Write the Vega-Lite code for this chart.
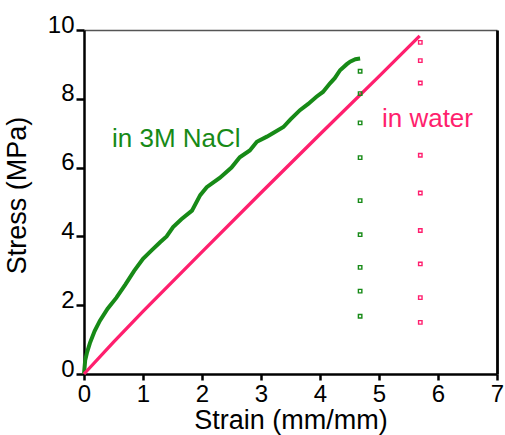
{
  "$schema": "https://vega.github.io/schema/vega-lite/v6.json",
  "width": 413,
  "height": 344,
  "autosize": {"type": "none"},
  "padding": {"left": 84, "top": 30, "right": 8, "bottom": 61},
  "background": "white",
  "config": {
    "view": {"stroke": null},
    "font": "Liberation Sans",
    "axis": {
      "grid": false,
      "domainColor": "#000000",
      "domainWidth": 2.5,
      "tickColor": "#000000",
      "tickWidth": 2.5,
      "labelFont": "Liberation Sans",
      "labelFontSize": 24,
      "labelColor": "#000000",
      "titleFont": "Liberation Sans",
      "titleFontSize": 27,
      "titleFontWeight": "normal",
      "titleColor": "#000000"
    }
  },
  "datasets": {
    "curves": [
      {"series": "NaCl", "strain": 0, "stress": 0},
      {"series": "NaCl", "strain": 0.02, "stress": 0.4},
      {"series": "NaCl", "strain": 0.05, "stress": 0.62},
      {"series": "NaCl", "strain": 0.1, "stress": 0.9},
      {"series": "NaCl", "strain": 0.18, "stress": 1.25},
      {"series": "NaCl", "strain": 0.27, "stress": 1.55},
      {"series": "NaCl", "strain": 0.4, "stress": 1.9},
      {"series": "NaCl", "strain": 0.55, "stress": 2.22},
      {"series": "NaCl", "strain": 0.7, "stress": 2.6},
      {"series": "NaCl", "strain": 0.85, "stress": 3.0},
      {"series": "NaCl", "strain": 1.0, "stress": 3.35},
      {"series": "NaCl", "strain": 1.15, "stress": 3.6},
      {"series": "NaCl", "strain": 1.29, "stress": 3.83},
      {"series": "NaCl", "strain": 1.4, "stress": 4.0},
      {"series": "NaCl", "strain": 1.51, "stress": 4.27},
      {"series": "NaCl", "strain": 1.65, "stress": 4.5},
      {"series": "NaCl", "strain": 1.83, "stress": 4.75},
      {"series": "NaCl", "strain": 1.97, "stress": 5.2},
      {"series": "NaCl", "strain": 2.08, "stress": 5.43},
      {"series": "NaCl", "strain": 2.3, "stress": 5.7},
      {"series": "NaCl", "strain": 2.5, "stress": 6.0},
      {"series": "NaCl", "strain": 2.64, "stress": 6.3},
      {"series": "NaCl", "strain": 2.81, "stress": 6.5},
      {"series": "NaCl", "strain": 2.93, "stress": 6.75},
      {"series": "NaCl", "strain": 3.1, "stress": 6.9},
      {"series": "NaCl", "strain": 3.2, "stress": 7.0},
      {"series": "NaCl", "strain": 3.38, "stress": 7.18},
      {"series": "NaCl", "strain": 3.5, "stress": 7.4},
      {"series": "NaCl", "strain": 3.66, "stress": 7.67},
      {"series": "NaCl", "strain": 3.8, "stress": 7.85},
      {"series": "NaCl", "strain": 3.94, "stress": 8.06},
      {"series": "NaCl", "strain": 4.05, "stress": 8.2},
      {"series": "NaCl", "strain": 4.17, "stress": 8.45},
      {"series": "NaCl", "strain": 4.25, "stress": 8.6},
      {"series": "NaCl", "strain": 4.34, "stress": 8.83},
      {"series": "NaCl", "strain": 4.45, "stress": 9.0},
      {"series": "NaCl", "strain": 4.51, "stress": 9.08},
      {"series": "NaCl", "strain": 4.6, "stress": 9.15},
      {"series": "NaCl", "strain": 4.68, "stress": 9.17},
      {"series": "water", "strain": 0, "stress": 0},
      {"series": "water", "strain": 0.5, "stress": 0.93},
      {"series": "water", "strain": 1.0, "stress": 1.82},
      {"series": "water", "strain": 2.0, "stress": 3.55},
      {"series": "water", "strain": 3.0, "stress": 5.27},
      {"series": "water", "strain": 4.0, "stress": 6.97},
      {"series": "water", "strain": 5.0, "stress": 8.65},
      {"series": "water", "strain": 5.69, "stress": 9.83}
    ],
    "dots": [
      {"series": "NaCl", "strain": 4.68, "stress": 8.8},
      {"series": "NaCl", "strain": 4.68, "stress": 8.15},
      {"series": "NaCl", "strain": 4.68, "stress": 7.3},
      {"series": "NaCl", "strain": 4.68, "stress": 6.29},
      {"series": "NaCl", "strain": 4.68, "stress": 5.04},
      {"series": "NaCl", "strain": 4.68, "stress": 4.05},
      {"series": "NaCl", "strain": 4.68, "stress": 3.1},
      {"series": "NaCl", "strain": 4.68, "stress": 2.41},
      {"series": "NaCl", "strain": 4.68, "stress": 1.68},
      {"series": "water", "strain": 5.7, "stress": 9.64},
      {"series": "water", "strain": 5.7, "stress": 9.11},
      {"series": "water", "strain": 5.7, "stress": 8.46},
      {"series": "water", "strain": 5.7, "stress": 6.36},
      {"series": "water", "strain": 5.7, "stress": 5.26},
      {"series": "water", "strain": 5.7, "stress": 4.17},
      {"series": "water", "strain": 5.7, "stress": 3.2},
      {"series": "water", "strain": 5.7, "stress": 2.22},
      {"series": "water", "strain": 5.7, "stress": 1.5}
    ],
    "labels": [
      {"series": "NaCl", "strain": 0.475, "stress": 6.83, "label": "in 3M NaCl"},
      {"series": "water", "strain": 5.05, "stress": 7.41, "label": "in water"}
    ]
  },
  "layer": [
    {
      "data": {"name": "curves"},
      "mark": {"type": "line"},
      "encoding": {
        "x": {
          "field": "strain", "type": "quantitative",
          "scale": {"domain": [0, 7], "nice": false},
          "axis": {
            "orient": "bottom", "values": [0, 1, 2, 3, 4, 5, 6, 7],
            "tickSize": 6, "labelPadding": 2, "labelFlush": false, "labelOverlap": false,
            "title": "Strain (mm/mm)", "titleBaseline": "alphabetic", "titleY": 54
          }
        },
        "y": {
          "field": "stress", "type": "quantitative",
          "scale": {"domain": [0, 10], "nice": false},
          "axis": {
            "orient": "left", "values": [0, 2, 4, 6, 8, 10],
            "tickSize": 8, "labelPadding": 2, "labelOffset": -5, "labelFlush": false, "labelOverlap": false,
            "title": "Stress (MPa)", "titleBaseline": "alphabetic", "titleX": -59, "titleY": 165
          }
        },
        "color": {
          "field": "series", "type": "nominal",
          "scale": {"domain": ["NaCl", "water"], "range": ["#178a17", "#ff1f6e"]},
          "legend": null
        },
        "strokeWidth": {
          "field": "series", "type": "nominal",
          "scale": {"domain": ["NaCl", "water"], "range": [4, 3.3]},
          "legend": null
        }
      }
    },
    {
      "data": {"name": "dots"},
      "mark": {"type": "point", "shape": "square", "size": 12, "filled": false, "strokeWidth": 1.4, "opacity": 1},
      "encoding": {
        "x": {"field": "strain", "type": "quantitative", "axis": null},
        "y": {"field": "stress", "type": "quantitative", "axis": null},
        "color": {"field": "series", "type": "nominal", "legend": null}
      }
    },
    {
      "data": {"name": "labels"},
      "mark": {"type": "text", "align": "left", "baseline": "middle", "fontSize": 26, "font": "Liberation Sans"},
      "encoding": {
        "x": {"field": "strain", "type": "quantitative", "axis": null},
        "y": {"field": "stress", "type": "quantitative", "axis": null},
        "text": {"field": "label"},
        "color": {"field": "series", "type": "nominal", "legend": null}
      }
    },
    {
      "data": {"name": "labels"},
      "mark": {"type": "point", "opacity": 0},
      "encoding": {
        "x": {
          "field": "strain", "type": "quantitative",
          "axis": {"orient": "top", "labels": false, "ticks": false, "title": null, "domainColor": "#555555", "domainWidth": 1.5}
        },
        "y": {
          "field": "stress", "type": "quantitative",
          "axis": {"orient": "right", "labels": false, "ticks": false, "title": null, "domainColor": "#000000", "domainWidth": 2.8}
        }
      }
    }
  ]
}
